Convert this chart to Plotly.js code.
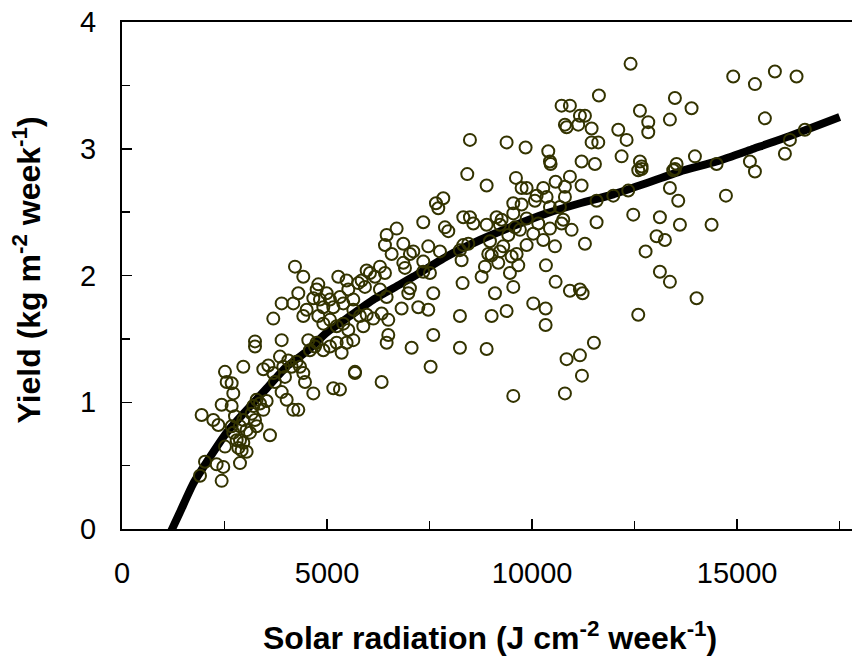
<!DOCTYPE html>
<html>
<head>
<meta charset="utf-8">
<script src="https://cdn.plot.ly/plotly-3.0.1.min.js"></script>
<style>html,body{margin:0;padding:0;background:#fff;}#chart{width:852px;height:657px;}</style>
</head>
<body>
<div id="chart"></div>
<script>
// Observed weekly yield vs solar radiation
const radiation = [
1942,2227,2349,2024,1902,2308,2470,2430,2877,2511,2552,2674,2714,2430,2674,2958,3243,3243,2511,2714,
2796,2877,2958,3039,3161,3202,3283,3364,3446,3527,2836,2917,3039,2674,2755,2877,2958,3121,3243,3283,
3608,3446,3568,3689,3730,3852,3893,3933,3974,3893,4015,4177,4299,4258,4340,4421,4462,4665,4137,4055,
3689,3893,4177,4218,4421,4299,4421,4502,4543,4665,4746,4787,4827,4909,4990,5071,5152,5274,5315,5396,
5477,5518,5640,5762,5843,5924,5965,6046,6168,6290,6412,6290,6453,4787,4909,5071,5234,5396,5518,5640,
5802,5965,6128,6331,6493,4746,4909,5071,5234,5356,5477,5640,5884,4583,4705,5152,5315,5681,5681,6331,
6453,6493,6453,6412,6575,6697,
12401,11629,10719,10922,11166,11288,10800,10841,11125,11451,11451,11613,12629,12832,12832,12101,12304,13360,13482,8484,
9378,9841,10394,10435,10451,11207,11532,12182,12629,12670,12588,12670,13523,13482,13441,8419,8891,9606,9744,9866,
10922,10800,10573,11207,10110,10272,10069,10353,10435,10678,10800,9541,9744,7655,7834,7712,11572,11979,12344,13360,
13563,12466,13116,11572,13604,7346,7875,7956,8322,8484,8566,8891,9134,9256,9216,9541,9581,9703,9866,10028,
10150,10272,10435,10719,10963,10760,9419,8972,8322,8240,8443,7753,7468,7021,7103,6859,6859,6900,7346,7346,
7509,8281,8769,8850,8931,9013,9175,9297,9216,9500,9622,9663,9459,9541,9094,9866,10557,11288,7021,6981,
7590,8305,7225,7468,6818,8240,9013,9378,10028,10329,10329,10337,10573,10922,11166,11231,12588,12767,13035,13238,
13116,13360,7590,7062,8240,8891,7525,9541,10841,11166,11215,11507,10800,
14904,15433,15920,16448,15676,13888,13970,14498,15311,15433,16286,16652,16164,14726,14376,14010
];
const yieldObs = [
0.90,0.86,0.82,0.53,0.42,0.51,0.49,0.38,0.52,1.24,1.16,1.15,1.07,0.98,0.97,1.28,1.48,1.44,0.65,0.76,
0.70,0.81,0.86,0.78,0.91,0.97,1.02,0.99,0.94,1.01,0.64,0.62,0.61,0.81,0.89,0.70,0.68,0.76,0.86,0.81,
0.74,1.26,1.29,1.23,1.16,1.36,1.49,1.28,1.20,1.08,1.02,0.94,0.94,1.32,1.28,1.23,1.16,1.07,1.28,1.33,
1.66,1.78,1.78,2.07,1.99,1.86,1.68,1.73,1.49,1.82,1.89,1.93,1.81,1.75,1.86,1.81,1.75,1.99,1.83,1.78,
1.96,1.89,1.81,1.94,1.96,1.91,2.04,2.02,1.99,2.07,2.02,1.89,1.83,1.68,1.62,1.65,1.60,1.62,1.57,1.73,
1.68,1.69,1.66,1.70,1.65,1.47,1.41,1.44,1.47,1.39,1.47,1.49,1.60,1.41,1.44,1.11,1.10,1.24,1.23,1.16,
1.47,1.53,2.32,2.24,2.17,2.37,
3.67,3.42,3.34,3.34,3.26,3.26,3.19,3.17,3.19,3.16,3.05,3.05,3.30,3.21,3.13,3.15,3.07,3.23,3.40,3.07,
3.05,3.01,2.98,2.90,2.88,2.90,2.88,2.94,2.90,2.86,2.83,2.84,2.88,2.84,2.83,2.80,2.71,2.77,2.69,2.69,
2.78,2.70,2.74,2.71,2.63,2.69,2.59,2.62,2.54,2.54,2.62,2.57,2.56,2.57,2.61,2.53,2.59,2.63,2.67,2.69,
2.59,2.48,2.46,2.42,2.40,2.42,2.38,2.35,2.46,2.46,2.41,2.40,2.46,2.44,2.40,2.49,2.38,2.36,2.45,2.33,
2.41,2.28,2.37,2.41,2.36,2.44,2.32,2.27,2.24,2.20,2.25,2.19,2.23,2.17,2.19,2.25,2.10,2.06,2.11,2.03,
2.02,2.12,1.99,2.07,2.17,2.16,2.10,2.23,2.19,2.15,2.17,2.08,2.02,1.91,1.86,2.24,2.23,2.25,1.90,1.86,
1.86,1.94,1.75,1.73,1.74,1.68,1.68,1.72,1.78,1.74,1.61,2.08,1.95,1.88,1.89,1.86,1.69,2.19,2.31,2.28,
2.03,1.95,1.53,1.43,1.43,1.42,1.28,1.05,1.34,1.37,1.21,1.47,1.07,
3.57,3.51,3.61,3.57,3.24,3.32,2.94,2.88,2.90,2.82,3.07,3.15,2.96,2.63,2.40,1.82
];

// Fitted response curve
const curveX = [1150,1410,1740,2150,2550,2960,3530,4010,4500,4990,5560,6130,6780,7100,7920,8730,9540,10350,11170,11980,12800,13600,14500,15400,16200,17500];
const curveY = [-0.05,0.13,0.36,0.57,0.76,0.91,1.11,1.28,1.40,1.55,1.68,1.81,1.93,1.99,2.15,2.28,2.39,2.49,2.57,2.64,2.73,2.82,2.90,3.00,3.09,3.25];

const xTitle = 'Solar radiation (J cm<sup>-2</sup> week<sup>-1</sup>)';
const yTitle = 'Yield (kg m<sup>-2</sup> week<sup>-1</sup>)';

const FONT = 'Liberation Sans, Arial, Helvetica, sans-serif';
const titleFont = {family: FONT, size: 32, weight: 'bold', color: '#000'};

const traces = [
  {
    x: curveX, y: curveY, type: 'scatter', mode: 'lines',
    line: {color: '#000000', width: 8, shape: 'spline', smoothing: 0.6},
    hoverinfo: 'skip', showlegend: false
  },
  {
    x: radiation, y: yieldObs, type: 'scatter', mode: 'markers',
    marker: {symbol: 'circle-open', size: 12, color: '#333300', line: {color: '#333300', width: 2}},
    showlegend: false
  }
];

const axisCommon = {
  showline: true, linecolor: '#000', linewidth: 2,
  showgrid: false, zeroline: false,
  ticks: 'inside', ticklen: 10, tickwidth: 1.5, tickcolor: '#000',
  tickformat: 'd',
  tickfont: {family: FONT, size: 29, color: '#000'}
};

const layout = {
  width: 852, height: 657,
  margin: {l: 122, r: 0, t: 22, b: 128},
  paper_bgcolor: '#fff', plot_bgcolor: '#fff',
  showlegend: false,
  font: {family: FONT, color: '#000'},
  xaxis: Object.assign({}, axisCommon, {
    range: [0, 17800], tick0: 0, dtick: 5000, mirror: true,
    ticklabelstandoff: 17,
    minor: {dtick: 2500, ticks: 'inside', ticklen: 8, tickwidth: 1.5, tickcolor: '#000', showgrid: false}
  }),
  yaxis: Object.assign({}, axisCommon, {
    range: [0, 4], tick0: 0, dtick: 1,
    ticklabelstandoff: 18,
    minor: {dtick: 0.5, ticks: 'inside', ticklen: 8, tickwidth: 1.5, tickcolor: '#000', showgrid: false}
  }),
  annotations: [
    {text: xTitle, xref: 'paper', yref: 'paper', x: 0.504, y: -0.212,
     xanchor: 'center', yanchor: 'middle', showarrow: false, font: titleFont},
    {text: yTitle, xref: 'paper', yref: 'paper', x: -0.13, y: 0.51,
     xanchor: 'center', yanchor: 'middle', textangle: -90, showarrow: false, font: titleFont}
  ]
};

Plotly.newPlot('chart', traces, layout, {displayModeBar: false, staticPlot: true});
</script>
</body>
</html>
